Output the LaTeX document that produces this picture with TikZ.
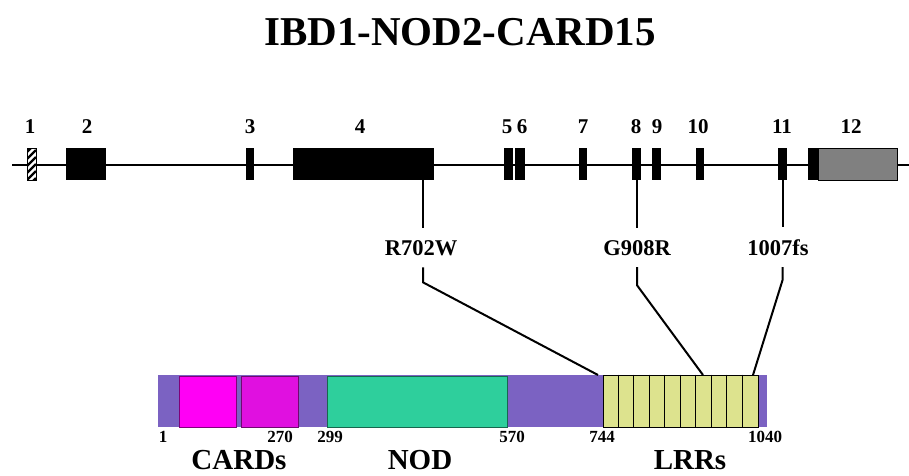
\documentclass[tikz,border=0pt]{standalone}
\usepackage{fontspec}
\setmainfont{Liberation Serif}
\definecolor{protpurple}{HTML}{7B62C2}
\definecolor{cardA}{HTML}{FF00F5}
\definecolor{cardB}{HTML}{E010E0}
\definecolor{nodgreen}{HTML}{2ECF9C}
\definecolor{lrryellow}{HTML}{DDE38E}
\tikzset{
  exon/.style={fill=black, inner sep=0pt, outer sep=0pt, minimum height=32pt},
  exnum/.style={font=\fontsize{21}{21}\selectfont\bfseries, anchor=base, inner sep=0pt},
  mut/.style={font=\fontsize{22.5}{22.5}\selectfont\bfseries, anchor=base, inner sep=0pt, outer sep=12pt},
  posnum/.style={font=\fontsize{17}{17}\selectfont\bfseries, anchor=base, inner sep=0pt, text depth=0pt},
  dom/.style={font=\fontsize{29}{29}\selectfont\bfseries, anchor=base, inner sep=0pt, text height=19pt},
  link/.style={line width=2pt},
  domain/.style={draw=#1!50!black, line width=1pt, inner sep=0pt, minimum height=51pt}
}
\begin{document}
\begin{tikzpicture}[x=1pt, y=-1pt]
  \useasboundingbox (0,0) rectangle (909,475);
  % title
  \node[font=\fontsize{41}{41}\selectfont\bfseries, anchor=base, inner sep=0pt] (title) at (460,45) {IBD1-NOD2-CARD15};
  % gene
  \coordinate (gl) at (12,165);
  \coordinate (gr) at (909,165);
  \draw[line width=2.5pt] (gl) -- (gr);
  \node[exon, fill=white, minimum width=9pt] (ex1) at (31.5,164) {};
  \begin{scope}
    \clip (ex1.south west) rectangle (ex1.north east);
    \foreach \k in {-2,...,5}
      \draw[line width=2.2pt] ([yshift=\k*7pt]ex1.south west) -- ([xshift=9pt,yshift=\k*7pt+9pt]ex1.south west);
  \end{scope}
  \draw[line width=0.8pt] (ex1.south west) rectangle (ex1.north east);
  \node[exon, minimum width=40pt] (ex2) at (86,164) {};
  \node[exon, minimum width=8pt] (ex3) at (250,164) {};
  \node[exon, minimum width=141pt] (ex4) at (363.5,164) {};
  \node[exon, minimum width=9pt] (ex5) at (508.5,164) {};
  \node[exon, minimum width=10pt] (ex6) at (520,164) {};
  \node[exon, minimum width=8pt] (ex7) at (583,164) {};
  \node[exon, minimum width=9pt] (ex8) at (636.5,164) {};
  \node[exon, minimum width=9pt] (ex9) at (656.5,164) {};
  \node[exon, minimum width=8pt] (ex10) at (699.5,164) {};
  \node[exon, minimum width=9pt] (ex11) at (782.5,164) {};
  \node[exon, minimum width=10pt] (ex12a) at (813,164) {};
  \node[exon, fill=gray, draw=black, line width=0.8pt, minimum width=79pt, anchor=west] (ex12) at (ex12a.east) {};
  \foreach \n/\x in {1/30,2/87,3/250,4/360,5/507,6/522,7/583,8/636,9/657,10/698,11/782,12/851}
    \node[exnum] (lab\n) at (\x,133) {\n};
  % protein
  \node[fill=protpurple, inner sep=0pt, minimum width=609pt, minimum height=52pt] (prot) at (462.5,401) {};
  \node[domain=cardA, fill=cardA, minimum width=57pt] (card1) at (207.5,401.5) {};
  \node[domain=cardB, fill=cardB, minimum width=57pt] (card2) at (269.5,401.5) {};
  \node[domain=nodgreen, fill=nodgreen, minimum width=180pt] (nod) at (417,401.5) {};
  \node[draw=black, fill=lrryellow, line width=1pt, inner sep=0pt, minimum width=155pt, minimum height=52pt] (lrr) at (680.5,401) {};
  \foreach \i in {1,...,9}
    \draw[line width=1pt] ([xshift=\i*15.5pt]lrr.north west) -- ([xshift=\i*15.5pt]lrr.south west);
  % mutations
  \node[mut] (r702w) at (421,255) {R702W};
  \node[mut] (g908r) at (637,255) {G908R};
  \node[mut] (fs1007) at (778,255) {1007fs};
  \coordinate (hit1) at (598,375);
  \coordinate (hit2) at (703,375);
  \coordinate (hit3) at (753,375);
  \draw[link] (ex4.south -| 423,0) -- (r702w.north -| 423,0);
  \draw[link] (g908r.north |- ex8.south) -- (g908r.north);
  \draw[link] (ex11.south) -- (ex11.south |- fs1007.north);
  \draw[link] (r702w.south -| 423,0) -- ++(0,15) -- (hit1);
  \draw[link] (g908r.south) -- ++(0,18) -- (hit2);
  \draw[link] (fs1007.south -| ex11.south) -- ++(0,13) -- (hit3);
  % positions and domain names
  \foreach \t/\x in {1/163,270/280,299/330,570/512,744/602,1040/765}
    \node[posnum] (p\t) at (\x,442) {\t};
  \node[dom] (cards) at (239,469) {CARDs};
  \node[dom] (nodlab) at (420,469) {NOD};
  \node[dom] (lrrs) at (690,469) {LRRs};
\end{tikzpicture}
\end{document}
